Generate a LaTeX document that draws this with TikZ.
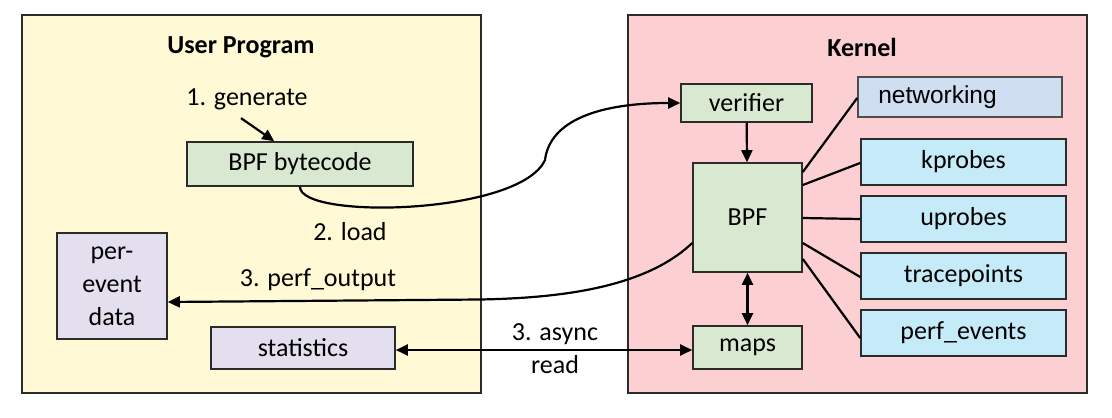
\documentclass[tikz,border=0pt]{standalone}
\usepackage{fontspec}
\setmainfont{Carlito}
\newfontfamily\arialfont{Liberation Sans}
\usetikzlibrary{arrows.meta,calc}
\definecolor{userbg}{HTML}{FFFAD5}
\definecolor{kernbg}{HTML}{FCD0D3}
\definecolor{greenbg}{HTML}{D9E8D0}
\definecolor{lavbg}{HTML}{E3DFEE}
\definecolor{cyanbg}{HTML}{C5EAF8}
\definecolor{netbg}{HTML}{CFDEF0}
\definecolor{edge}{HTML}{2B2B2B}
\begin{document}
\begin{tikzpicture}[x=1pt,y=-1pt,
  font=\fontsize{26}{32}\selectfont,
  outerbox/.style={draw=edge, line width=1.6pt, inner sep=0pt},
  boxnode/.style={draw=edge, line width=1.6pt, inner sep=0pt, align=center},
  titletext/.style={font=\fontsize{26}{32}\selectfont\bfseries},
  conn/.style={line width=2.2pt, black},
  arr/.style={conn, -{Triangle[length=12pt,width=11pt]}},
  darr/.style={conn, {Triangle[length=12pt,width=11pt]}-{Triangle[length=12pt,width=11pt]}}]
\useasboundingbox (0,0) rectangle (1112,418);
\fill[white] (0,0) rectangle (1112,418);
% containers
\node[outerbox, fill=userbg, minimum width=459pt, minimum height=378pt] (user) at (251.5,204) {};
\node[outerbox, fill=kernbg, minimum width=459pt, minimum height=378pt] (kernel) at (857.5,204) {};
\node[titletext] (usertitle) at (241,47) {User Program};
\node[titletext] (kerntitle) at (862,47) {Kernel};
% user side
\node[boxnode, fill=greenbg, minimum width=226pt, minimum height=44pt] (bc) at (300,164) {BPF bytecode};
\node[boxnode, fill=lavbg, minimum width=110pt, minimum height=106pt, text depth=-10pt, font=\fontsize{26}{33}\selectfont] (data) at (112,286) {per-\\event\\data};
\node[boxnode, fill=lavbg, minimum width=184pt, minimum height=42pt] (stats) at (303,348) {statistics};
\node (gen) at (247,99) {1. generate};
\node (load) at (350,232) {2. load};
\node (perf) at (318,280) {3. perf\_output};
\node[align=center, font=\fontsize{26}{33}\selectfont] (async) at (555,348.5) {3. async\\read};
% kernel side
\node[boxnode, fill=greenbg, minimum width=131pt, minimum height=38pt] (ver) at (746.5,103) {verifier};
\node[boxnode, fill=greenbg, minimum width=109pt, minimum height=109pt] (bpf) at (747.5,217.5) {BPF};
\node[boxnode, fill=greenbg, minimum width=109pt, minimum height=43pt] (maps) at (747.5,347.5) {maps};
\node[boxnode, fill=netbg, draw=black!70, minimum width=204pt, minimum height=40pt, font=\arialfont\fontsize{24.5}{30}\selectfont] (net) at (960,97) {networking\hspace{45pt}};
\node[boxnode, fill=cyanbg, minimum width=205pt, minimum height=46pt] (kp) at (963.5,162) {kprobes};
\node[boxnode, fill=cyanbg, minimum width=205pt, minimum height=46pt] (up) at (963.5,219) {uprobes};
\node[boxnode, fill=cyanbg, minimum width=205pt, minimum height=46pt] (tp) at (963.5,276) {tracepoints};
\node[boxnode, fill=cyanbg, minimum width=205pt, minimum height=46pt] (pe) at (963.5,333) {perf\_events};
% connectors
\draw[arr] ($(gen.south)+(-6,5)$) -- ($(bc.north west)+(88,0)$);
\draw[arr] (bc.south) .. controls (300,220) and (520,215) .. (545,160)
  .. controls (550,120) and (600,103) .. (ver.west);
\draw[arr] (ver) -- (bpf);
\draw[darr] (bpf) -- (maps);
\draw[arr] ($(bpf.west)+(0,25.5)$) .. controls (645,288) and (560,298) .. (480,299.5) -- (data.east |- 0,302);
\draw[darr] (stats.east |- 0,350) -- (maps.west |- 0,350);
\draw[conn] ($(bpf.east)+(0,-45.5)$) -- ($(net.west)+(0,1)$);
\draw[conn] ($(bpf.east)+(0,-32.5)$) -- ($(kp.west)+(0,1)$);
\draw[conn] ($(bpf.east)+(0,0.5)$) -- (up.west);
\draw[conn] ($(bpf.east)+(0,25.5)$) -- ($(tp.west)+(0,1)$);
\draw[conn] ($(bpf.east)+(0,41.5)$) -- ($(pe.west)+(0,5)$);
\end{tikzpicture}
\end{document}
